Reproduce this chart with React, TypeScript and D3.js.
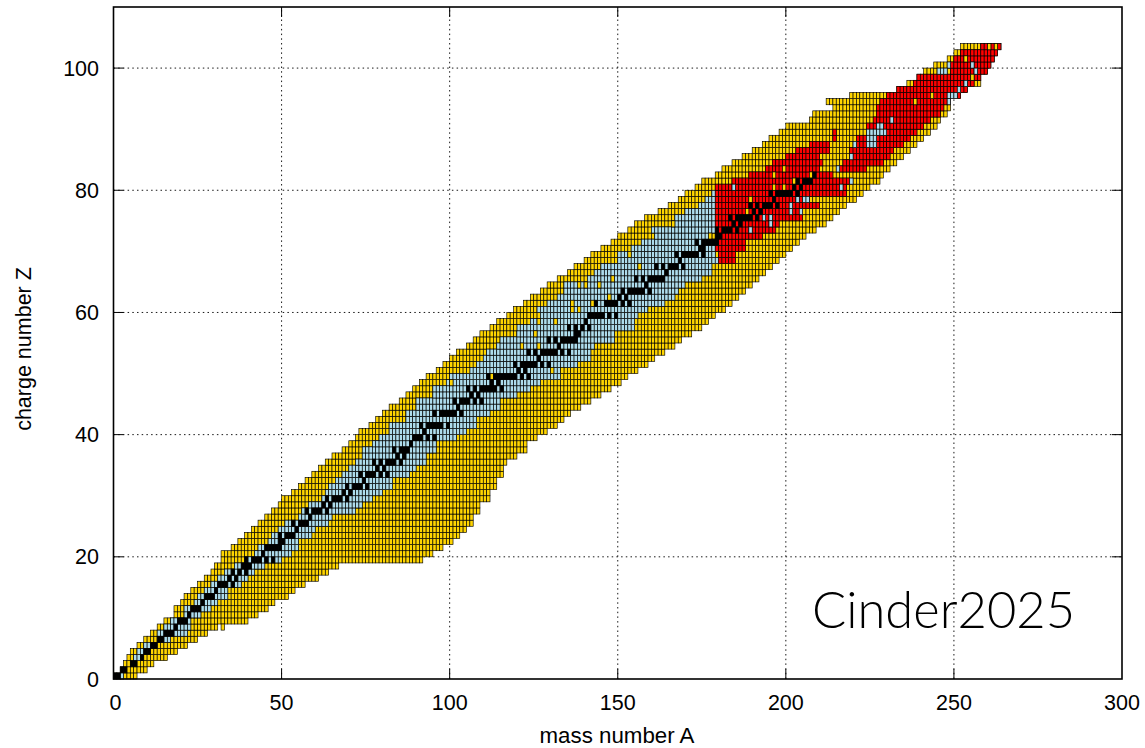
import React from "react";
import * as d3 from "d3";

const yellowStart = [0,2,3,4,5,7,9,11,13,15,18,18,20,21,23,25,27,29,30,32,32,35,37,39,41,43,45,47,49,50,53,55,57,59,61,63,65,68,70,72,73,76,78,80,82,85,87,89,91,93,96,98,100,102,105,107,109,112,114,117,119,122,124,127,129,132,135,137,140,142,145,148,150,153,155,158,162,165,168,170,173,175,179,181,184,187,190,193,195,198,200,207,208,214,212,219,233,236,239,241,244,248,250,252];
const yellowEnd = [7,10,12,16,19,22,25,28,31,40,43,46,48,52,54,57,61,64,67,92,95,98,101,103,105,107,107,109,109,112,112,114,114,116,116,117,120,123,123,126,129,132,134,136,139,142,145,148,151,153,156,159,161,164,167,169,172,175,177,179,182,184,186,188,190,192,194,196,198,200,202,204,206,209,212,214,216,218,221,223,225,228,229,231,233,235,237,239,241,243,245,246,248,249,249,252,254,258,258,260,261,262,263,264];
const yellowExtra: number[][] = [[8,32]];

const blueStart = [2,0,0,6,7,9,13,13,15,17,21,21,24,25,27,29,31,33,36,39,42,43,46,47,49,51,55,56,58,62,63,64,66,68,70,72,74,74,77,79,82,82,87,87,90,90,95,95,99,100,105,108,110,111,114,115,120,120,124,127,126,129,132,134,134,141,143,145,150,150,154,157,161,160,166,167,170,174,176,178];
const blueEnd = [3,0,0,8,9,11,17,22,23,23,26,29,31,34,34,38,40,42,45,50,53,55,55,59,60,64,65,72,74,77,80,83,83,88,90,93,93,96,96,102,105,108,108,112,115,115,120,124,127,133,133,138,142,142,143,149,149,155,155,156,160,164,167,168,170,175,178,178,180,179,179,179,178,179,179,179,179,179,179,179];

// red spans: row, first A, end A
const redSpans: number[][] = [
  [68,180,185],[69,180,185],[70,179,188],[71,179,188],[72,181,193],[73,179,197],[74,179,198],[75,179,205],[76,179,205],[77,179,210],[78,179,207],[79,179,218],[80,179,218],[81,184,219],[82,189,214],
  [83,194,210],[83,216,224],[84,196,211],[84,217,229],[85,200,210],[85,219,231],[86,203,213],[86,219,232],[87,207,213],[87,221,235],[88,214,215],[88,221,237],[89,214,215],[89,224,239],
  [90,224,241],[91,226,243],[92,227,246],[93,227,247],[94,228,249],[95,230,252],[96,233,254],[97,238,256],[98,239,258],[99,249,260],[100,249,261],[101,250,262],[102,252,263],[103,258,264],
];

const blueSpecks: number[][] = [
  [95,248],[95,249],[95,250],[96,251],[94,248],[100,248],[99,245],[99,246],[99,247],[100,255],[99,256],[97,253],[91,231],[90,227],[90,228],[89,224],[89,225],[89,226],[89,227],[89,228],[89,229],[88,224],[88,225],[88,226],[87,224],[87,225],[87,226],[87,220],[85,219],[83,215],[81,219],[80,216],[78,203],[78,205],[78,206],[77,201],[76,201],[76,204],[75,193],[75,195],[74,195],[73,189],[80,184],
];
const yellowSpecks: number[][] = [
  [67,156],[65,148],[64,144],[64,140],[64,138],[60,136],[61,136],[60,138],[61,142],[62,147],[60,159],[56,125],[55,129],[58,131],[58,126],[54,121],[54,126],[50,130],[57,119],[74,166],[69,153],[72,177],[39,91],[50,105],[49,112],[32,84],[50,133],[48,100],
  [78,189],[76,188],[73,185],[82,196],[83,199],[81,202],[82,207],[80,196],[80,199],[79,201],[94,238],[95,243],[101,253],[98,255],[103,260],[103,262],
];

// stable nuclides: charge number followed by mass numbers
const stable: number[][] = [
  [1,1,2],[2,3,4],[3,6,7],[4,9],[5,10,11],[6,12,13],[7,14,15],[8,16,17,18],[9,19],[10,20,21,22],[11,23],[12,24,25,26],[13,27],[14,28,29,30],[15,31],[16,32,33,34,36],[17,35,37],[18,36,38,40],[19,39,40,41],[20,40,42,43,44,46,48],
  [21,45],[22,46,47,48,49,50],[23,50,51],[24,50,52,53,54],[25,55],[26,54,56,57,58],[27,59],[28,58,60,61,62,64],[29,63,65],[30,64,66,67,68,70],[31,69,71],[32,70,72,73,74,76],[33,75],[34,74,76,77,78,80,82],[35,79,81],[36,78,80,82,83,84,86],[37,85,87],[38,84,86,87,88],[39,89],[40,90,91,92,94,96],
  [41,93],[42,92,94,95,96,97,98,100],[44,96,98,99,100,101,102,104],[45,103],[46,102,104,105,106,108,110],[47,107,109],[48,106,108,110,111,112,113,114,116],[49,113,115],[50,112,114,115,116,117,118,119,120,122,124],[51,121,123],[52,120,122,123,124,125,126,128,130],[53,127],[54,124,126,128,129,130,131,132,134,136],[55,133],[56,130,132,134,135,136,137,138],[57,138,139],[58,136,138,140,142],[59,141],[60,142,143,144,145,146,148,150],
  [62,144,147,148,149,150,152,154],[63,151,153],[64,152,154,155,156,157,158,160],[65,159],[66,156,158,160,161,162,163,164],[67,165],[68,162,164,166,167,168,170],[69,169],[70,168,170,171,172,173,174,176],[71,175,176],[72,174,176,177,178,179,180],[73,180,181],[74,180,182,183,184,186],[75,185,187],[76,184,186,187,188,189,190,192],[77,191,193],[78,190,192,194,195,196,198],[79,197],[80,196,198,199,200,201,202,204],[81,203,205],[82,204,206,207,208],[83,209],
];

const xTicks = [0,50,100,150,200,250,300];
const yTicks = [0,20,40,60,80,100];
const YELLOW = "#ffd500", BLUE = "#aedcec", RED = "#ff0000";

const x = d3.scaleLinear().domain([0,300]).range([113.5,1122]);
const y = d3.scaleLinear().domain([0,110]).range([679,7]);

type Cell = { a:number; r:number; c:string };
const cells: Cell[] = [];
const put = (r:number,a0:number,a1:number,c:string)=>{ for(let a=a0;a<a1;a++) cells.push({a,r,c}); };
yellowStart.forEach((s,r)=>put(r,s,yellowEnd[r],YELLOW));
yellowExtra.forEach(([r,a])=>put(r,a,a+1,YELLOW));
blueStart.forEach((s,r)=>put(r,s,blueEnd[r],BLUE));
redSpans.forEach(([r,a,b])=>put(r,a,b,RED));
yellowSpecks.forEach(([r,a])=>put(r,a,a+1,YELLOW));
blueSpecks.forEach(([r,a])=>put(r,a,a+1,BLUE));
stable.forEach(([z,...as])=>as.forEach(m=>put(z-1,m-1,m,"#000")));

const font = "'Liberation Sans', Arial, sans-serif";
const TICK = 10;

export default function App(){
  return (
    <svg width={1145} height={748} style={{position:"absolute",left:0,top:0,background:"#fff"}}>
      <g stroke="#000" strokeWidth={1} strokeDasharray="1.5 3.2" opacity={0.9}>
        {xTicks.slice(1,-1).map(t=><line key={t} x1={x(t)} x2={x(t)} y1={y(0)} y2={y(110)}/>)}
        {yTicks.slice(1).map(t=><line key={t} y1={y(t)} y2={y(t)} x1={x(0)} x2={x(300)}/>)}
      </g>
      <g stroke="#000" strokeWidth={0.65}>
        {cells.map((d,i)=><rect key={i} x={x(d.a)} y={y(d.r+1)} width={x(1)-x(0)} height={y(0)-y(1)} fill={d.c}/>)}
      </g>
      <g stroke="#000" strokeWidth={1}>
        {xTicks.slice(1,-1).map(t=><g key={t}>
          <line x1={x(t)} x2={x(t)} y1={y(0)} y2={y(0)-TICK}/>
          <line x1={x(t)} x2={x(t)} y1={y(110)} y2={y(110)+TICK}/>
        </g>)}
        {yTicks.slice(1).map(t=><g key={t}>
          <line y1={y(t)} y2={y(t)} x1={x(0)} x2={x(0)+TICK}/>
          <line y1={y(t)} y2={y(t)} x1={x(300)} x2={x(300)-TICK}/>
        </g>)}
      </g>
      <rect x={x(0)} y={y(110)} width={x(300)-x(0)} height={y(0)-y(110)} fill="none" stroke="#000" strokeWidth={1.6}/>
      <g fontFamily={font} fontSize={21.5} fill="#000">
        {xTicks.map(t=><text key={t} x={x(t)+(t===0?2:0)} y={710} textAnchor="middle">{t}</text>)}
        {yTicks.map(t=><text key={t} x={99} y={y(t)+7.5} textAnchor="end">{t}</text>)}
        <text x={617} y={743} textAnchor="middle" fontSize={22.3}>mass number A</text>
        <text transform="translate(31,349) rotate(-90)" textAnchor="middle">charge number Z</text>
      </g>
      <text x={812} y={628} fontFamily="Lato, sans-serif" fontWeight={300} fontSize={52} textLength={263} lengthAdjust="spacingAndGlyphs" fill="#000">Cinder2025</text>
    </svg>
  );
}
